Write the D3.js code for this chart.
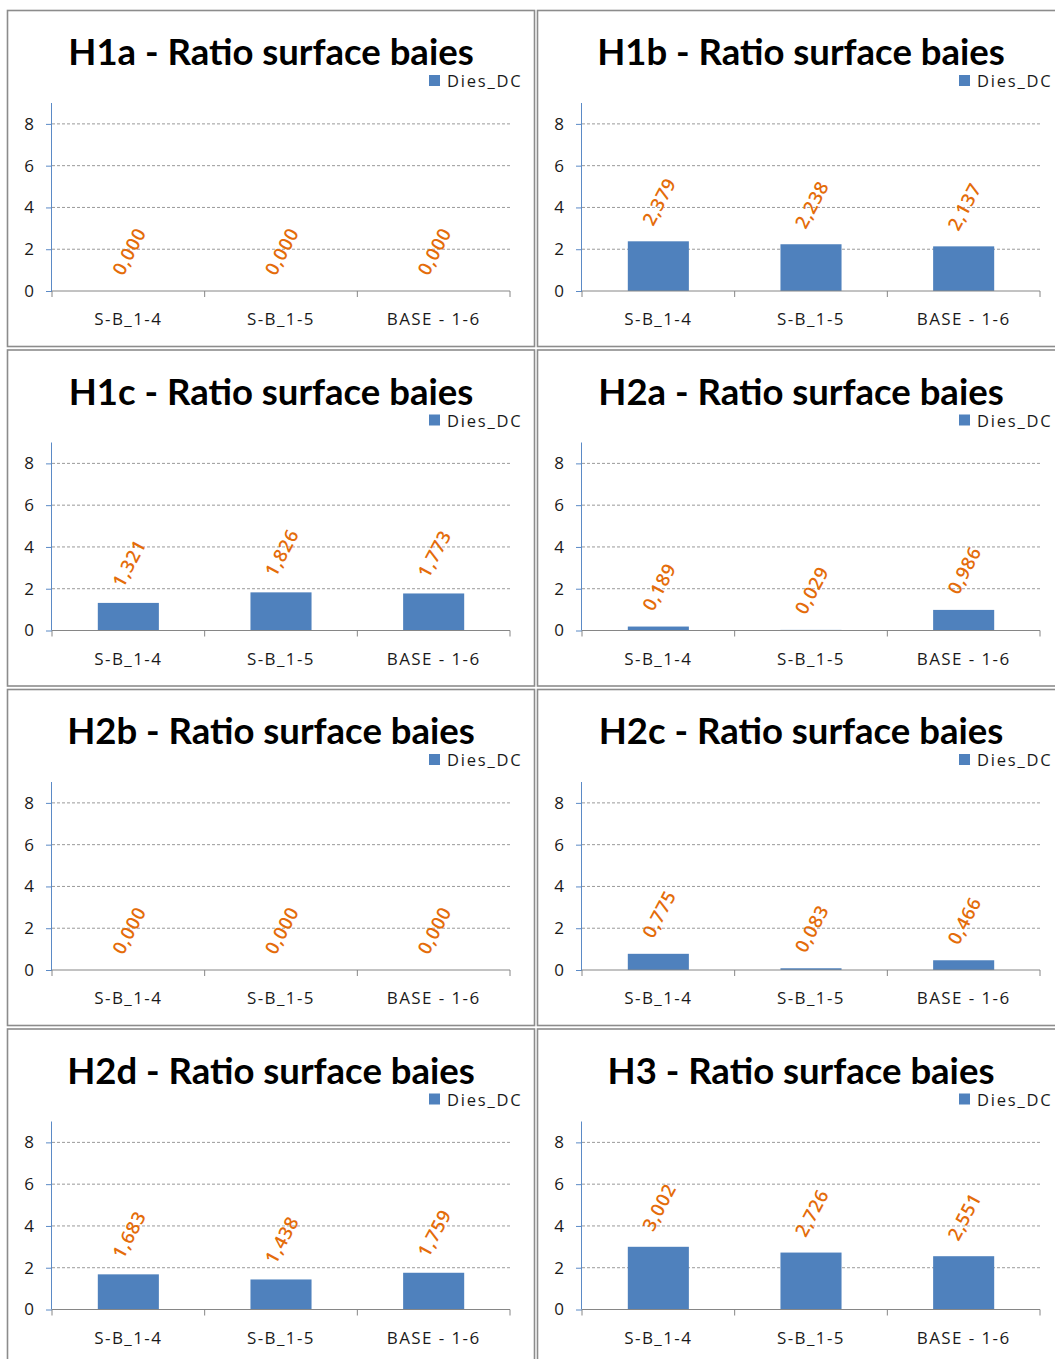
<!DOCTYPE html>
<html>
<head>
<meta charset="utf-8">
<script src="https://cdn.jsdelivr.net/npm/d3@7"></script>
<style>
  html, body { margin: 0; padding: 0; background: #ffffff; }
  svg { display: block; }
</style>
</head>
<body>
<svg id="chart" width="1055" height="1359"></svg>
<script>
// ---------- data ----------
const categories = ["S-B_1-4", "S-B_1-5", "BASE - 1-6"];
const seriesName = "Dies_DC";
const yTicks = [0, 2, 4, 6, 8];
const yMax = 9;

const titles = [
  "H1a - Ratio surface baies", "H1b - Ratio surface baies",
  "H1c - Ratio surface baies", "H2a - Ratio surface baies",
  "H2b - Ratio surface baies", "H2c - Ratio surface baies",
  "H2d - Ratio surface baies", "H3 - Ratio surface baies"
];
const valuesH1a = [0.000, 0.000, 0.000];
const valuesH1b = [2.379, 2.238, 2.137];
const valuesH1c = [1.321, 1.826, 1.773];
const valuesH2a = [0.189, 0.029, 0.986];
const valuesH2b = [0.000, 0.000, 0.000];
const valuesH2c = [0.775, 0.083, 0.466];
const valuesH2d = [1.683, 1.438, 1.759];
const valuesH3  = [3.002, 2.726, 2.551];
const allValues = [valuesH1a, valuesH1b, valuesH1c, valuesH2a, valuesH2b, valuesH2c, valuesH2d, valuesH3];

// ---------- layout / style ----------
const colX = [7, 537];
const rowY = [10, 349.5, 689, 1028.5];
const panelW = 527, panelH = 336;
const plot = { left: 45, right: 503, top: 93, bottom: 281 };
const barColor = "#4f81bd";
const labelColor = "#e46c0a";
const yAxisColor = "#5b8ac6";
const xAxisColor = "#868686";
const font = "'Open Sans', 'Liberation Sans', sans-serif";

const locale = d3.formatLocale({ decimal: ",", thousands: ".", grouping: [3], currency: ["", "€"] });
const fmt = locale.format(".3f");

const svg = d3.select("#chart");

const x = d3.scaleBand().domain(categories).range([plot.left, plot.right]).paddingInner(0).paddingOuter(0);
const y = d3.scaleLinear().domain([0, yMax]).range([plot.bottom, plot.top]);
const barW = x.bandwidth() * 0.4;

allValues.forEach((vals, i) => {
  const col = i % 2, row = Math.floor(i / 2);
  const g = svg.append("g").attr("transform", `translate(${colX[col]},${rowY[row]})`);

  // panel border
  g.append("rect").attr("x", 0.5).attr("y", 0.5).attr("width", panelW).attr("height", panelH)
    .attr("fill", "#fff").attr("stroke", "#8c8c8c").attr("stroke-width", 1.6);

  // title
  g.append("text").attr("x", panelW / 2 + 0.5).attr("y", 55)
    .attr("text-anchor", "middle")
    .style("font-family", "Lato, 'Open Sans', sans-serif")
    .style("font-weight", 700).style("font-size", "36.5px").attr("fill", "#000")
    .text(titles[i]);

  // legend
  g.append("rect").attr("x", 422).attr("y", 65).attr("width", 11).attr("height", 11).attr("fill", barColor);
  g.append("text").attr("x", 440).attr("y", 77)
    .style("font-family", font).style("font-size", "16.5px").style("letter-spacing", "1.8px")
    .attr("fill", "#1a1a1a").text(seriesName);

  // gridlines
  g.append("g").selectAll("line").data(yTicks.filter(t => t > 0)).join("line")
    .attr("x1", plot.left).attr("x2", plot.right)
    .attr("y1", d => y(d)).attr("y2", d => y(d))
    .attr("stroke", "#9a9a9a").attr("stroke-width", 1).attr("stroke-dasharray", "3,2");

  // y axis
  const yAxis = d3.axisLeft(y).tickValues(yTicks).tickSize(6).tickPadding(12).tickFormat(d3.format("d"));
  const ya = g.append("g").attr("transform", `translate(${plot.left},0)`).call(yAxis);
  ya.select(".domain").attr("stroke", yAxisColor).attr("d", `M-0.5,${plot.top}V${plot.bottom}`);
  ya.selectAll(".tick line").attr("stroke", yAxisColor);
  ya.selectAll(".tick text").style("font-family", font).style("font-size", "17px").attr("fill", "#1a1a1a");

  // bars
  g.append("g").selectAll("rect").data(vals).join("rect")
    .attr("x", (d, j) => x(categories[j]) + (x.bandwidth() - barW) / 2)
    .attr("y", d => y(d))
    .attr("width", barW)
    .attr("height", d => y(0) - y(d))
    .attr("fill", barColor);

  // x axis
  const xa = g.append("g").attr("transform", `translate(0,${plot.bottom})`);
  xa.append("line").attr("x1", plot.left).attr("x2", plot.right).attr("y1", 0).attr("y2", 0)
    .attr("stroke", xAxisColor);
  const bounds = categories.map(c => x(c)).concat([plot.right]);
  xa.selectAll("line.tk").data(bounds).join("line").attr("class", "tk")
    .attr("x1", d => d).attr("x2", d => d).attr("y1", 0).attr("y2", 6)
    .attr("stroke", xAxisColor);
  xa.selectAll("text").data(categories).join("text")
    .attr("x", d => x(d) + x.bandwidth() / 2).attr("y", 34)
    .attr("text-anchor", "middle")
    .style("font-family", font).style("font-size", "17px").style("letter-spacing", "1.4px")
    .attr("fill", "#1a1a1a").text(d => d);

  // data labels
  g.append("g").selectAll("text").data(vals).join("text")
    .attr("transform", (d, j) => `translate(${x(categories[j]) + x.bandwidth() / 2},${y(d) - 40}) rotate(-62)`)
    .attr("text-anchor", "middle").attr("dominant-baseline", "central")
    .style("font-family", font).style("font-size", "18.5px").style("font-weight", 600)
    .style("letter-spacing", "0.6px")
    .attr("fill", labelColor).text(d => fmt(d));
});
</script>
</body>
</html>
